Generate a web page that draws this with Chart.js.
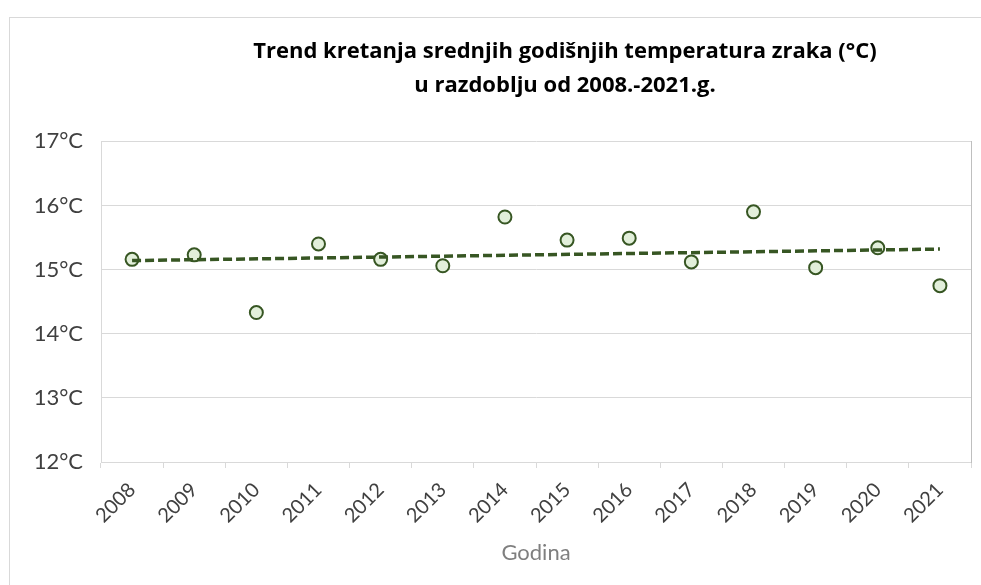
<!DOCTYPE html>
<html>
<head>
<meta charset="utf-8">
<script src="https://cdn.jsdelivr.net/npm/chart.js@4.4.1/dist/chart.umd.min.js"></script>
<style>
  html, body { margin: 0; padding: 0; background: #fff; overflow: hidden; }
  #frame { position: absolute; left: 9px; top: 17px; width: 1200px; height: 700px; border: 1px solid #d9d9d9; }
  #wrap { position: absolute; left: 0; top: 0; width: 1130px; height: 585px; }
</style>
</head>
<body>
<div id="frame"></div>
<div id="wrap"><canvas id="chart" width="1130" height="585"></canvas></div>
<script>
const years = ["2008", "2009", "2010", "2011", "2012", "2013", "2014",
               "2015", "2016", "2017", "2018", "2019", "2020", "2021"];
const meanTemps = [15.16, 15.23, 14.33, 15.40, 15.16, 15.06, 15.82,
                   15.46, 15.49, 15.12, 15.90, 15.03, 15.34, 14.75];
// trend line ends (2008, 2021)
const trendYears = ["2008", "2021"];
const trendTemps = [15.14, 15.32];
const yTicks = [12, 13, 14, 15, 16, 17];
const titleLines = ["Trend kretanja srednjih godišnjih temperatura zraka (°C)",
                    "u razdoblju od 2008.-2021.g."];

const font = "Lato, 'Open Sans', sans-serif";
const green = "#375623";

const ctx = document.getElementById("chart").getContext("2d");
new Chart(ctx, {
  type: "line",
  data: {
    labels: years,
    datasets: [
      {
        label: "Trend",
        data: trendYears.map((y, i) => ({ x: y, y: trendTemps[i] })),
        borderColor: green,
        borderWidth: 3.5,
        borderDash: [9, 4],
        pointRadius: 0,
        fill: false
      },
      {
        label: "Temperatura",
        data: meanTemps,
        showLine: false,
        pointRadius: 6.5,
        pointBorderWidth: 2,
        pointBackgroundColor: "#e2efda",
        pointBorderColor: green
      }
    ]
  },
  options: {
    responsive: false,
    animation: false,
    layout: { padding: { left: 35, right: 35, top: 0, bottom: 19 } },
    plugins: {
      legend: { display: false },
      tooltip: { enabled: false },
      title: {
        display: true,
        text: titleLines,
        color: "#000",
        font: { family: "'Open Sans', sans-serif", size: 22, weight: "bold", lineHeight: 1.53 },
        padding: { top: 35, bottom: 39 }
      }
    },
    scales: {
      x: {
        offset: true,
        grid: { display: true, drawOnChartArea: false, drawTicks: true, tickLength: 6, color: "#d9d9d9", offset: true },
        border: { color: "#d9d9d9" },
        ticks: {
          color: "#404040",
          font: { family: font, size: 20 },
          minRotation: 45,
          maxRotation: 45,
          padding: 10
        },
        title: {
          display: true,
          text: "Godina",
          color: "#7f7f7f",
          font: { family: font, size: 22 },
          padding: { top: 4, bottom: 0 }
        },
        afterFit: (s) => { s.height = 104; }
      },
      y: {
        min: 12,
        max: 17,
        afterBuildTicks: (s) => { s.ticks = yTicks.map(v => ({ value: v })); },
        grid: { color: "#d9d9d9", drawTicks: false },
        border: { color: "#d9d9d9" },
        ticks: {
          color: "#404040",
          font: { family: font, size: 22 },
          padding: 18,
          callback: (v) => v + "°C"
        },
        afterFit: (s) => { s.width = 66; }
      },
      y2: {
        position: "right",
        min: 12,
        max: 17,
        ticks: { display: false },
        grid: { drawOnChartArea: false, drawTicks: false },
        border: { color: "#bfbfbf" },
        afterFit: (s) => { s.width = 124; }
      }
    }
  }
});
</script>
</body>
</html>
